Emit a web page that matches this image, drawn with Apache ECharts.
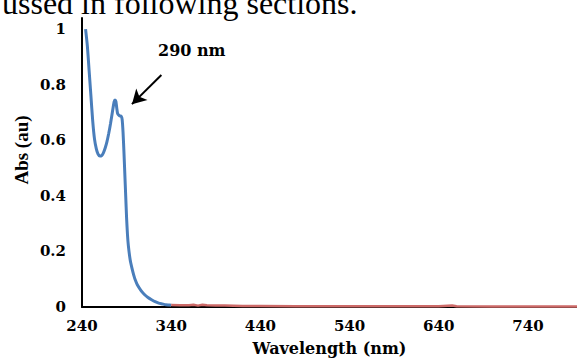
<!DOCTYPE html>
<html>
<head>
<meta charset="utf-8">
<script src="https://cdn.jsdelivr.net/npm/echarts@6/dist/echarts.min.js"></script>
<style>
  html, body {margin: 0; padding: 0; background: #fff;}
  #chart {width: 577px; height: 358px;}
</style>
</head>
<body>
<div id="chart"></div>
<script>
// absorbance spectrum, blue part (nm, abs)
const blueWave = [244, 246, 248, 250, 252, 254, 256, 258, 260, 262, 264, 266, 268, 270, 272, 274, 276, 277, 278, 279, 280, 282, 284, 285, 286, 287, 288, 289, 290, 291, 292, 294, 296, 298, 300, 302, 306, 310, 314, 318, 322, 326, 330, 334, 338, 340];
const blueAbs = [1.00, 0.94, 0.85, 0.76, 0.67, 0.605, 0.57, 0.55, 0.543, 0.545, 0.555, 0.572, 0.595, 0.625, 0.66, 0.70, 0.738, 0.745, 0.74, 0.715, 0.695, 0.688, 0.686, 0.675, 0.63, 0.56, 0.48, 0.40, 0.32, 0.26, 0.22, 0.17, 0.14, 0.115, 0.095, 0.08, 0.06, 0.045, 0.034, 0.026, 0.019, 0.014, 0.011, 0.008, 0.007, 0.006];
// red part, near baseline
const redWave = [340, 350, 360, 365, 370, 375, 380, 390, 400, 420, 440, 480, 520, 560, 600, 640, 655, 660, 700, 740, 780, 795];
const redAbs = [0.007, 0.006, 0.006, 0.008, 0.005, 0.008, 0.006, 0.005, 0.005, 0.004, 0.004, 0.003, 0.003, 0.003, 0.003, 0.003, 0.005, 0.003, 0.002, 0.002, 0.002, 0.002];
const xTickLabels = [240, 340, 440, 540, 640, 740];
const yTickLabels = [0, 0.2, 0.4, 0.6, 0.8, 1];
// arrow pointing at the 290 nm shoulder
const arrowFrom = [329, 0.835];
const arrowTo = [296, 0.73];

const pair = (xs, ys) => xs.map((x, i) => [x, ys[i]]);
const tickFont = {color: '#000', fontFamily: 'DejaVu Serif', fontWeight: 'bold', fontSize: 15};

const chart = echarts.init(document.getElementById('chart'), null, {renderer: 'svg'});
chart.setOption({
  animation: false,
  grid: {left: 82, right: 0, top: 18, bottom: 51, containLabel: false, outerBoundsMode: 'none'},
  xAxis: {
    type: 'value',
    min: 240,
    max: 795,
    interval: 20,
    name: 'Wavelength (nm)',
    nameLocation: 'middle',
    nameGap: 33,
    nameTextStyle: {color: '#000', fontFamily: 'DejaVu Serif', fontWeight: 'bold', fontSize: 16},
    axisLine: {lineStyle: {color: '#000', width: 2}},
    axisTick: {show: false},
    splitLine: {show: false},
    axisLabel: Object.assign({
      margin: 11,
      showMaxLabel: false,
      formatter(v) {
        return xTickLabels.includes(v) ? String(v) : '';
      }
    }, tickFont)
  },
  yAxis: {
    type: 'value',
    min: 0,
    max: 1.04,
    interval: 0.2,
    axisLine: {show: true, lineStyle: {color: '#000', width: 2}},
    axisTick: {show: false},
    splitLine: {show: false},
    axisLabel: Object.assign({
      margin: 16,
      showMaxLabel: false,
      formatter(v) {
        const r = Math.round(v * 10) / 10;
        return yTickLabels.some(t => Math.abs(t - v) < 1e-6) ? String(r) : '';
      }
    }, tickFont)
  },
  graphic: [
    {
      type: 'text',
      left: 2,
      top: -13,
      style: {text: 'ussed in following sections.', fill: '#000', font: '32px "Liberation Serif"'}
    },
    {
      type: 'text',
      x: 158,
      y: 42,
      style: {text: '290 nm', fill: '#000', font: 'bold 16px "DejaVu Serif"'}
    },
    {
      type: 'text',
      x: 21,
      y: 150,
      rotation: Math.PI / 2,
      style: {
        text: 'Abs (au)', fill: '#000', font: 'bold 19px "Liberation Serif"',
        align: 'center', verticalAlign: 'middle'
      }
    }
  ],
  series: [
    {
      type: 'line',
      data: pair(blueWave, blueAbs),
      showSymbol: false,
      smooth: 0.2,
      lineStyle: {color: '#4a7ebb', width: 3},
      z: 3,
      markLine: {
        silent: true,
        symbol: ['none', 'arrow'],
        symbolSize: [12, 14],
        label: {show: false},
        lineStyle: {color: '#000', width: 2, type: 'solid'},
        data: [[{coord: arrowFrom}, {coord: arrowTo}]]
      }
    },
    {
      type: 'line',
      data: pair(redWave, redAbs),
      showSymbol: false,
      lineStyle: {color: '#cd6a68', width: 2.5},
      z: 4
    }
  ]
});
</script>
</body>
</html>
